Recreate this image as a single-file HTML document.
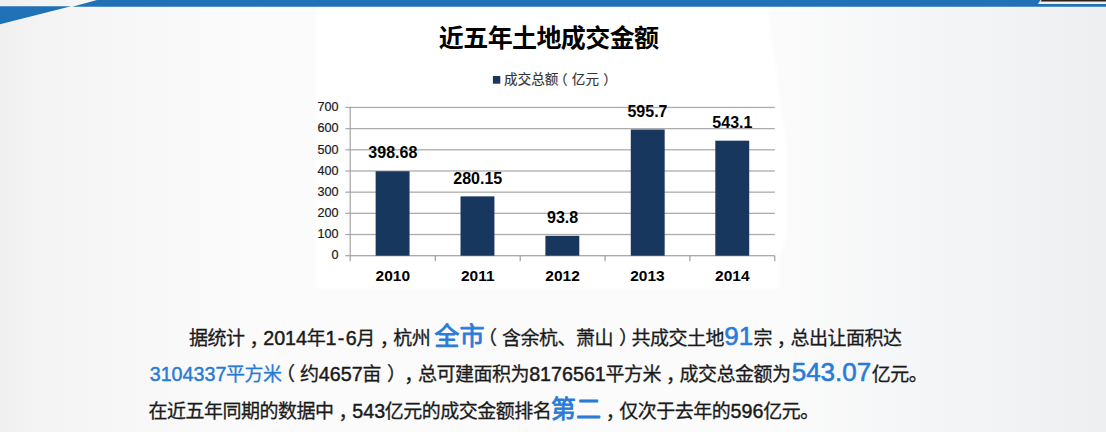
<!DOCTYPE html>
<html><head><meta charset="utf-8"><title>近五年土地成交金额</title>
<style>
html,body{margin:0;padding:0;background:#f5f5f6;font-family:"Liberation Sans",sans-serif;}
body{width:1106px;height:432px;overflow:hidden;}
svg{display:block;}
svg text{font-family:"Liberation Sans","Noto Sans CJK SC",sans-serif;}
</style></head><body>
<svg role="img" aria-label="近五年土地成交金额" width="1106" height="432" viewBox="0 0 1106 432">
<desc>近五年土地成交金额 成交总额（亿元） 2010: 398.68, 2011: 280.15, 2012: 93.8, 2013: 595.7, 2014: 543.1。据统计，2014年1-6月，杭州全市（含余杭、萧山）共成交土地91宗，总出让面积达3104337平方米（约4657亩），总可建面积为8176561平方米，成交总金额为543.07亿元。在近五年同期的数据中，543亿元的成交金额排名第二，仅次于去年的596亿元。</desc>
<defs>

<linearGradient id="bg" x1="0" y1="0" x2="1106" y2="0" gradientUnits="userSpaceOnUse">
<stop offset="0" stop-color="#f0f0f1"/>
<stop offset="0.04" stop-color="#f4f4f5"/>
<stop offset="0.14" stop-color="#f8f8f9"/>
<stop offset="0.25" stop-color="#fbfbfb"/>
<stop offset="0.70" stop-color="#fbfbfb"/>
<stop offset="0.80" stop-color="#f6f7f8"/>
<stop offset="0.90" stop-color="#f2f3f4"/>
<stop offset="1" stop-color="#eeeff0"/>
</linearGradient>
<filter id="bl" x="-10%" y="-10%" width="120%" height="120%"><feGaussianBlur stdDeviation="1.5"/></filter>

</defs>
<rect x="0" y="0" width="1106" height="432" fill="url(#bg)"/>
<polygon points="316,4 767,4 787,150 787,236 779.5,256 779.5,288.5 316,288.5" fill="#ffffff" filter="url(#bl)"/>
<polygon points="0,6.2 71,6.2 0,24.3" fill="#2071b5"/>
<polygon points="72.3,6.7 97.0,0 1106,0 1106,6.7" fill="#2071b5"/>
<polygon points="1040.6,0 1106,0 1106,4 1037.8,4" fill="#f6efe4"/>
<polygon points="1041.6,0 1106,0 1106,1.6 1040.6,1.6" fill="#2a2219"/>
<rect x="345.40" y="233.87" width="429.40" height="1.3" fill="#acacac"/>
<rect x="345.40" y="212.69" width="429.40" height="1.3" fill="#acacac"/>
<rect x="345.40" y="191.51" width="429.40" height="1.3" fill="#acacac"/>
<rect x="345.40" y="170.34" width="429.40" height="1.3" fill="#acacac"/>
<rect x="345.40" y="149.16" width="429.40" height="1.3" fill="#acacac"/>
<rect x="345.40" y="127.98" width="429.40" height="1.3" fill="#acacac"/>
<rect x="345.40" y="106.80" width="429.40" height="1.3" fill="#acacac"/>
<rect x="345.40" y="255.05" width="429.40" height="1.3" fill="#a8a8a8"/>
<rect x="349.60" y="106.95" width="1.2" height="154.25" fill="#a4a4a4"/>
<rect x="434.78" y="255.70" width="1" height="5.5" fill="#8c8c8c"/>
<rect x="519.66" y="255.70" width="1" height="5.5" fill="#8c8c8c"/>
<rect x="604.54" y="255.70" width="1" height="5.5" fill="#8c8c8c"/>
<rect x="689.42" y="255.70" width="1" height="5.5" fill="#8c8c8c"/>
<rect x="774.30" y="255.70" width="1" height="5.5" fill="#8c8c8c"/>
<rect x="375.64" y="171.27" width="33.90" height="84.43" fill="#17375e"/>
<g fill="#000"><text x="392.84" y="158.47" font-size="16" font-weight="bold" text-anchor="middle">398.68</text></g>
<g fill="#000"><text x="392.84" y="281.00" font-size="15.5" font-weight="bold" text-anchor="middle">2010</text></g>
<rect x="460.52" y="196.37" width="33.90" height="59.33" fill="#17375e"/>
<g fill="#000"><text x="477.72" y="183.57" font-size="16" font-weight="bold" text-anchor="middle">280.15</text></g>
<g fill="#000"><text x="477.72" y="281.00" font-size="15.5" font-weight="bold" text-anchor="middle">2011</text></g>
<rect x="545.40" y="235.83" width="33.90" height="19.87" fill="#17375e"/>
<g fill="#000"><text x="562.60" y="223.03" font-size="16" font-weight="bold" text-anchor="middle">93.8</text></g>
<g fill="#000"><text x="562.60" y="281.00" font-size="15.5" font-weight="bold" text-anchor="middle">2012</text></g>
<rect x="630.78" y="129.54" width="33.90" height="126.16" fill="#17375e"/>
<g fill="#000"><text x="647.48" y="116.74" font-size="16" font-weight="bold" text-anchor="middle">595.7</text></g>
<g fill="#000"><text x="647.48" y="281.00" font-size="15.5" font-weight="bold" text-anchor="middle">2013</text></g>
<rect x="715.31" y="140.68" width="33.90" height="115.02" fill="#17375e"/>
<g fill="#000"><text x="732.36" y="127.88" font-size="16" font-weight="bold" text-anchor="middle">543.1</text></g>
<g fill="#000"><text x="732.36" y="281.00" font-size="15.5" font-weight="bold" text-anchor="middle">2014</text></g>
<g fill="#1a1a1a" stroke="#1a1a1a" stroke-width="0.20" stroke-linejoin="round"><text x="338.4" y="259.40" font-size="12.6" text-anchor="end">0</text></g>
<g fill="#1a1a1a" stroke="#1a1a1a" stroke-width="0.20" stroke-linejoin="round"><text x="338.4" y="238.22" font-size="12.6" text-anchor="end">100</text></g>
<g fill="#1a1a1a" stroke="#1a1a1a" stroke-width="0.20" stroke-linejoin="round"><text x="338.4" y="217.04" font-size="12.6" text-anchor="end">200</text></g>
<g fill="#1a1a1a" stroke="#1a1a1a" stroke-width="0.20" stroke-linejoin="round"><text x="338.4" y="195.86" font-size="12.6" text-anchor="end">300</text></g>
<g fill="#1a1a1a" stroke="#1a1a1a" stroke-width="0.20" stroke-linejoin="round"><text x="338.4" y="174.69" font-size="12.6" text-anchor="end">400</text></g>
<g fill="#1a1a1a" stroke="#1a1a1a" stroke-width="0.20" stroke-linejoin="round"><text x="338.4" y="153.51" font-size="12.6" text-anchor="end">500</text></g>
<g fill="#1a1a1a" stroke="#1a1a1a" stroke-width="0.20" stroke-linejoin="round"><text x="338.4" y="132.33" font-size="12.6" text-anchor="end">600</text></g>
<g fill="#1a1a1a" stroke="#1a1a1a" stroke-width="0.20" stroke-linejoin="round"><text x="338.4" y="111.15" font-size="12.6" text-anchor="end">700</text></g>
<g fill="#000"><text x="438.87" y="47.00" font-size="25" font-weight="bold" letter-spacing="-0.6">近五年土地成交金额</text></g>
<rect x="492.9" y="76" width="7.4" height="7.7" fill="#1b3560"/>
<g fill="#333" stroke="#333" stroke-width="0.15" stroke-linejoin="round"><text y="84.30" font-size="13.55"><tspan x="504.10">成交总额</tspan><tspan x="553.91">（</tspan><tspan x="571.85">亿元</tspan><tspan x="603.35">）</tspan></text></g>
<g fill="#1a1a1a" stroke="#1a1a1a" stroke-width="0.45" stroke-linejoin="round"><text x="263.20" y="345.00" font-size="19.7">2014</text><text x="325.50" y="345.00" font-size="19.7" textLength="31.1" lengthAdjust="spacing">1-6</text></g>
<g fill="#1a1a1a" stroke="#1a1a1a" stroke-width="0.30" stroke-linejoin="round"><text font-size="19" letter-spacing="-0.5"><tspan x="188.92" y="345.00">据统计</tspan><tspan x="249.38" y="346.00">，</tspan><tspan x="306.72" y="345.00">年</tspan><tspan x="356.35" y="345.00">月</tspan><tspan x="379.81" y="346.00">，</tspan><tspan x="393.35" y="345.00">杭州</tspan></text></g>
<g fill="#2a7bd6" stroke="#2a7bd6" stroke-width="0.85" stroke-linejoin="round"><text x="434.33" y="345.00" font-size="25.1">全市</text></g>
<g fill="#1a1a1a" stroke="#1a1a1a" stroke-width="0.30" stroke-linejoin="round"><text font-size="19" letter-spacing="-0.5"><tspan x="478.00" y="345.00">（</tspan><tspan x="502.05" y="345.00">含余杭、萧山</tspan><tspan x="619.07" y="345.00">）</tspan><tspan x="631.55" y="345.00">共成交土地</tspan></text></g>
<g fill="#2a7bd6" stroke="#2a7bd6" stroke-width="0.60" stroke-linejoin="round"><text x="724.33" y="345.00" font-size="26">91</text></g>
<g fill="#1a1a1a" stroke="#1a1a1a" stroke-width="0.30" stroke-linejoin="round"><text font-size="19" letter-spacing="-0.5"><tspan x="753.41" y="345.00">宗</tspan><tspan x="776.87" y="346.00">，</tspan><tspan x="790.41" y="345.00">总出让面积达</tspan></text></g>
<g fill="#2a7bd6" stroke="#2a7bd6" stroke-width="0.45" stroke-linejoin="round"><text x="149.70" y="380.90" font-size="19.7">3104337</text></g>
<g fill="#2a7bd6" stroke="#2a7bd6" stroke-width="0.30" stroke-linejoin="round"><text x="226.08" y="380.90" font-size="19" letter-spacing="-0.5">平方米</text></g>
<g fill="#1a1a1a" stroke="#1a1a1a" stroke-width="0.45" stroke-linejoin="round"><text x="318.85" y="380.90" font-size="19.7">4657</text><text x="529.16" y="380.90" font-size="19.7">8176561</text></g>
<g fill="#1a1a1a" stroke="#1a1a1a" stroke-width="0.30" stroke-linejoin="round"><text font-size="19" letter-spacing="-0.5"><tspan x="276.03" y="380.90">（</tspan><tspan x="300.08" y="380.90">约</tspan><tspan x="362.38" y="380.90">亩</tspan><tspan x="386.89" y="380.90">）</tspan><tspan x="404.34" y="381.90">，</tspan><tspan x="417.88" y="380.90">总可建面积为</tspan><tspan x="605.53" y="380.90">平方米</tspan><tspan x="665.99" y="381.90">，</tspan><tspan x="679.53" y="380.90">成交总金额为</tspan></text></g>
<g fill="#2a7bd6" stroke="#2a7bd6" stroke-width="0.60" stroke-linejoin="round"><text x="791.71" y="380.90" font-size="26">543.07</text></g>
<g fill="#1a1a1a" stroke="#1a1a1a" stroke-width="0.30" stroke-linejoin="round"><text x="871.66" y="380.90" font-size="19" letter-spacing="-0.5">亿元。</text></g>
<g fill="#1a1a1a" stroke="#1a1a1a" stroke-width="0.45" stroke-linejoin="round"><text x="352.30" y="417.50" font-size="19.7">543</text></g>
<g fill="#1a1a1a" stroke="#1a1a1a" stroke-width="0.30" stroke-linejoin="round"><text font-size="19" letter-spacing="-0.5"><tspan x="148.52" y="417.50">在近五年同期的数据中</tspan><tspan x="338.48" y="418.50">，</tspan><tspan x="384.87" y="417.50">亿元的成交金额排名</tspan></text></g>
<g fill="#2a7bd6" stroke="#2a7bd6" stroke-width="0.85" stroke-linejoin="round"><text x="550.85" y="417.50" font-size="25.1">第二</text></g>
<g fill="#1a1a1a" stroke="#1a1a1a" stroke-width="0.45" stroke-linejoin="round"><text x="730.55" y="417.50" font-size="19.7">596</text></g>
<g fill="#1a1a1a" stroke="#1a1a1a" stroke-width="0.30" stroke-linejoin="round"><text font-size="19" letter-spacing="-0.5"><tspan x="605.73" y="418.50">，</tspan><tspan x="619.27" y="417.50">仅次于去年的</tspan><tspan x="763.13" y="417.50">亿元。</tspan></text></g>
</svg>
</body></html>
